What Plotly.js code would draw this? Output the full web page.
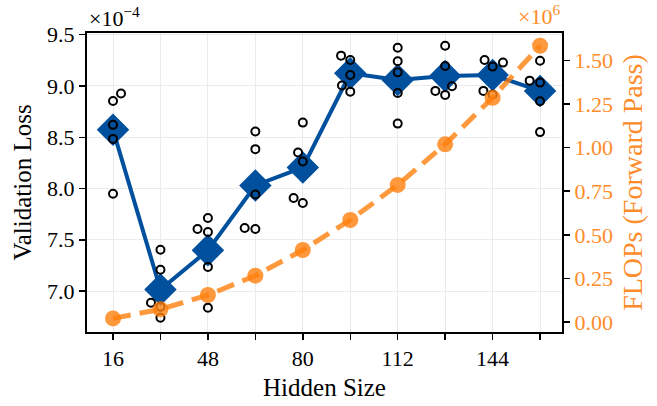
<!DOCTYPE html>
<html>
<head>
<meta charset="utf-8">
<script src="https://cdn.plot.ly/plotly-3.0.1.min.js"></script>
<style>html,body{margin:0;padding:0;background:#fff;}#chart{width:657px;height:406px;}</style>
</head>
<body>
<div id="chart"></div>
<script>
// Hidden sizes (x categories)
const hiddenSizes = [16, 32, 48, 64, 80, 96, 112, 128, 144, 160];
// Mean validation loss (×1e-4)
const meanLoss = [8.572, 7.014, 7.397, 8.030, 8.205, 9.124, 9.059, 9.098, 9.108, 8.952];
// FLOPs per forward pass (×1e6)
const flops = [0.021, 0.073, 0.155, 0.266, 0.413, 0.585, 0.786, 1.019, 1.286, 1.584];
// Individual seed runs (x slightly jittered, loss ×1e-4)
const seedX = [
  16, 16, 16, 16, 18.7,
  32, 32, 28.8, 32, 32,
  48, 44.5, 48, 48, 48,
  64, 64, 64, 60.4, 64,
  80, 78.4, 80, 76.9, 80,
  92.9, 96, 96, 93.2, 96,
  112, 112, 112, 112, 112,
  128, 128, 130.3, 124.7, 128,
  141.3, 144, 147.5, 140.9, 144,
  160, 156.5, 160, 160, 160
];
const seedLoss = [
  8.621, 8.484, 7.949, 8.854, 8.926,
  7.402, 7.207, 6.885, 6.739, 6.846,
  7.712, 7.605, 7.576, 7.235, 6.836,
  8.556, 8.384, 7.942, 7.615, 7.605,
  8.643, 8.351, 8.263, 7.907, 7.858,
  9.296, 9.254, 9.108, 9.004, 8.945,
  9.373, 9.241, 9.134, 8.932, 8.633,
  9.393, 9.195, 8.998, 8.952, 8.913,
  9.254, 9.189, 9.228, 8.952, 8.917,
  9.247, 9.052, 9.033, 8.851, 8.550
];
const xTickVals = [16, 48, 80, 112, 144];
const lossTickVals = [7.0, 7.5, 8.0, 8.5, 9.0, 9.5];
const flopsTickVals = [0, 0.25, 0.5, 0.75, 1.0, 1.25, 1.5];

const BLUE = '#00509e';
const ORANGE = 'rgba(255,127,14,0.8)';
const ORANGE_TXT = '#ff8c2a';
const FONT = '"Liberation Serif", "Times New Roman", serif';

const traces = [
  {
    x: hiddenSizes, y: meanLoss, type: 'scatter', mode: 'lines+markers',
    line: {color: BLUE, width: 4},
    marker: {symbol: 'diamond', size: 25, color: BLUE},
    xaxis: 'x', yaxis: 'y', hoverinfo: 'skip'
  },
  {
    x: seedX, y: seedLoss, type: 'scatter', mode: 'markers',
    marker: {symbol: 'circle-open', size: 8, color: '#000', line: {width: 2, color: '#000'}},
    xaxis: 'x', yaxis: 'y', hoverinfo: 'skip'
  },
  {
    x: hiddenSizes, y: flops, type: 'scatter', mode: 'lines+markers',
    line: {color: ORANGE, width: 5, dash: '18px,9px'},
    marker: {symbol: 'circle', size: 16, color: ORANGE},
    xaxis: 'x', yaxis: 'y2', hoverinfo: 'skip'
  }
];

const layout = {
  width: 657, height: 406,
  margin: {l: 87, r: 95, t: 33, b: 74, pad: 0},
  paper_bgcolor: '#fff', plot_bgcolor: '#fff',
  showlegend: false,
  font: {family: FONT, size: 22, color: '#000'},
  xaxis: {
    range: [7.23, 167.4],
    tickvals: xTickVals,
    ticks: 'outside', ticklen: 6, tickwidth: 1.5, tickcolor: '#000',
    minor: {tick0: 32, dtick: 32, ticks: 'outside', ticklen: 6, tickwidth: 1.5, tickcolor: '#000',
            showgrid: true, gridcolor: '#ebebeb', gridwidth: 1},
    showline: true, linecolor: '#000', linewidth: 2, mirror: true,
    showgrid: true, gridcolor: '#ebebeb', gridwidth: 1,
    zeroline: false,
    tickfont: {family: FONT, size: 22, color: '#000'},
    title: {text: 'Hidden Size', font: {family: FONT, size: 25, color: '#000'}, standoff: 8}
  },
  yaxis: {
    range: [6.60, 9.517],
    tickvals: lossTickVals,
    tickformat: '.1f',
    ticks: 'outside', ticklen: 6, tickwidth: 1.5, tickcolor: '#000',
    showline: true, linecolor: '#000', linewidth: 2, mirror: true,
    showgrid: true, gridcolor: '#ebebeb', gridwidth: 1,
    zeroline: false,
    tickfont: {family: FONT, size: 22, color: '#000'},
    title: {text: 'Validation Loss', font: {family: FONT, size: 25, color: '#000'}, standoff: 8}
  },
  yaxis2: {
    overlaying: 'y', side: 'right',
    range: [-0.057, 1.657],
    tickvals: flopsTickVals,
    tickformat: '.2f',
    ticks: 'outside', ticklen: 6, tickwidth: 1.5, tickcolor: '#000',
    showline: true, linecolor: '#000', linewidth: 2,
    showgrid: false, zeroline: false,
    tickfont: {family: FONT, size: 22, color: ORANGE_TXT},
    title: {text: 'FLOPs (Forward Pass)', font: {family: FONT, size: 28, color: ORANGE_TXT}, standoff: 10}
  },
  annotations: [
    {xref: 'paper', yref: 'paper', x: 0, y: 1, xanchor: 'left', yanchor: 'bottom',
     yshift: 0, showarrow: false, text: '×10<sup>−4</sup>',
     font: {family: FONT, size: 22, color: '#000'}},
    {xref: 'paper', yref: 'paper', x: 1, y: 1, xanchor: 'right', yanchor: 'bottom',
     yshift: 2, showarrow: false, text: '×10<sup>6</sup>',
     font: {family: FONT, size: 22, color: ORANGE_TXT}}
  ]
};

Plotly.newPlot('chart', traces, layout, {staticPlot: true, displayModeBar: false});
</script>
</body>
</html>
